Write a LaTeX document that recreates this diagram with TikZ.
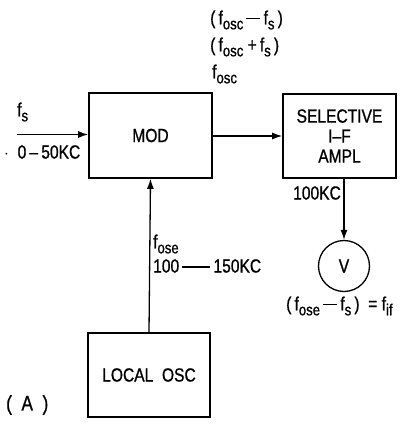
\documentclass[tikz,border=0pt]{standalone}
\usepackage{fontspec}
\setmainfont[FakeStretch=0.82,FakeBold=0.9]{Liberation Sans}
\usetikzlibrary{arrows.meta}
\newcommand\subtx[1]{\raisebox{-0.5ex}{\fontsize{16}{16}\selectfont #1}}
\newcommand\mdash{\,\rule[0.55ex]{14pt}{1.1pt}\,}
\tikzset{
  blk/.style={draw, line width=1.6pt, inner sep=0pt, align=center},
  lbl/.style={inner sep=0pt, font=\fontsize{19}{27}\selectfont},
  conn/.style={line width=1.3pt, -{Latex[length=10pt,width=7pt]}},
}
\begin{document}
\begin{tikzpicture}[x=1pt,y=-1pt, font=\fontsize{19}{20}\selectfont]
\useasboundingbox (0,0) rectangle (403,424);
% boxes
\node[blk, minimum width=123pt, minimum height=85pt] (mod) at (150.5,135.5) {MOD};
\node[blk, minimum width=113pt, minimum height=84pt, font=\fontsize{19}{20}\selectfont] (sel) at (339.5,136) {SELECTIVE\\I--F\\AMPL};
\node[blk, minimum width=122pt, minimum height=84pt] (osc) at (149,375) {LOCAL\ \ OSC};
\node[draw, circle, line width=1.3pt, minimum size=51pt, inner sep=0pt] (v) at (344,266) {V};
% connectors
\coordinate (in) at (17,134.5);
\draw[conn] (in) -- (in -| mod.west);
\draw[conn] (mod.east |- 0,136) -- (sel.west |- 0,136);
\draw[conn] (osc.north) -- (mod.south);
\draw[conn] (v.north |- sel.south) -- (v.north);
% labels
\node[lbl, anchor=west] (l1) at (210,20) {(\,f\subtx{osc}\mdash f\subtx{s}\,)};
\node[lbl, anchor=west] (l2) at (210,47) {(\,f\subtx{osc}\ +\,f\subtx{s}\,)};
\node[lbl, anchor=west] (l3) at (212,74) {f\subtx{osc}};
\node[lbl, anchor=west] (fs) at (17,112) {f\subtx{s}};
\node[lbl, anchor=west] (range) at (4,152) {$\cdot$\ \ 0\,--\,50KC};
\node[lbl, anchor=west] (fose) at (153,244) {f\subtx{ose}};
\node[lbl, anchor=west] (range2) at (153,266) {100\,\rule[0.5ex]{28pt}{1.1pt}\,150KC};
\node[lbl, anchor=west] (kc) at (293,193) {100KC};
\node[lbl, anchor=west] (fif) at (286,306) {(\,f\subtx{ose}\mdash f\subtx{s}\,)\ \ =\ f\subtx{if}};
\node[lbl, anchor=west, font=\fontsize{21}{24}\selectfont] (a) at (6,405) {(\ \ A\ \ )};
\end{tikzpicture}
\end{document}
